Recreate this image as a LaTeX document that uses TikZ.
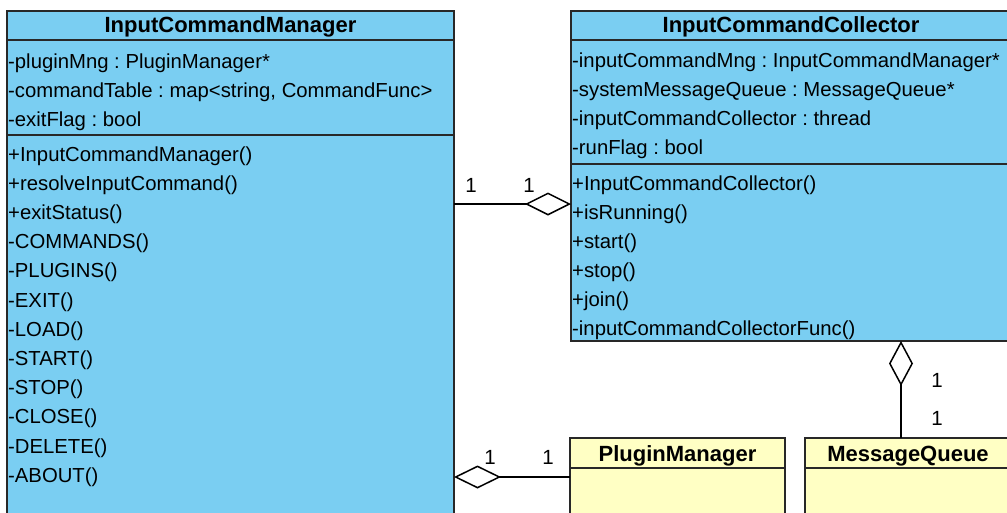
\documentclass[tikz,border=0pt]{standalone}
\usepackage{fontspec}
\setmainfont{Liberation Sans}
\usetikzlibrary{arrows.meta}
\definecolor{umlblue}{RGB}{122,206,242}
\definecolor{umlyellow}{RGB}{255,255,196}
\definecolor{umlborder}{RGB}{40,40,40}
\begin{document}
\frenchspacing
\begin{tikzpicture}[x=1pt,y=-1pt,
  comp/.style={draw=umlborder, line width=2pt, anchor=north west, inner sep=0pt, outer sep=0pt},
  bluebox/.style={comp, fill=umlblue},
  yellowbox/.style={comp, fill=umlyellow},
  member/.style={anchor=base west, inner sep=0pt, font=\fontsize{20.3}{24}\selectfont},
  headtext/.style={anchor=base, inner sep=0pt, font=\fontsize{22}{26}\selectfont\bfseries},
  mult/.style={anchor=base, inner sep=0pt, font=\fontsize{20.5}{24}\selectfont},
  agg/.style={draw=black, line width=1.5pt}
]
\useasboundingbox (0,0) rectangle (1007,512);
\clip (0,0) rectangle (1007,512);
\fill[white] (0,0) rectangle (1007,512);

% InputCommandManager
\node[bluebox, minimum width=447, minimum height=29] (icmhead) at (7,11) {};
\node[bluebox, minimum width=447, minimum height=95] (icmattr) at (7,40) {};
\node[bluebox, minimum width=447, minimum height=400] (icmops) at (7,135) {};
\node[headtext] (icmtitle) at (230.5,32) {InputCommandManager};
\foreach \t [count=\i] in {{-pluginMng : PluginManager*},{-commandTable : map<string, CommandFunc>},{-exitFlag : bool}}
  \node[member] (icma\i) at (8,{68+29*(\i-1)}) {\t};
\foreach \t [count=\i] in {{+InputCommandManager()},{+resolveInputCommand()},{+exitStatus()},{-COMMANDS()},{-PLUGINS()},{-EXIT()},{-LOAD()},{-START()},{-STOP()},{-CLOSE()},{-DELETE()},{-ABOUT()}}
  \node[member] (icmo\i) at (8,{161+29.2*(\i-1)}) {\t};

% InputCommandCollector
\node[bluebox, minimum width=440, minimum height=29] (icchead) at (571,11) {};
\node[bluebox, minimum width=440, minimum height=124] (iccattr) at (571,40) {};
\node[bluebox, minimum width=440, minimum height=177] (iccops) at (571,164) {};
\node[headtext] (icctitle) at (791,32) {InputCommandCollector};
\foreach \t [count=\i] in {{-inputCommandMng : InputCommandManager*},{-systemMessageQueue : MessageQueue*},{-inputCommandCollector : thread},{-runFlag : bool}}
  \node[member] (icca\i) at (572,{67+29.2*(\i-1)}) {\t};
\foreach \t [count=\i] in {{+InputCommandCollector()},{+isRunning()},{+start()},{+stop()},{+join()},{-inputCommandCollectorFunc()}}
  \node[member] (icco\i) at (572,{190+29*(\i-1)}) {\t};

% PluginManager
\node[yellowbox, minimum width=215, minimum height=30] (pmhead) at (570,438) {};
\node[yellowbox, minimum width=215, minimum height=70] (pmbody) at (570,468) {};
\node[headtext] (pmtitle) at (677.5,461) {PluginManager};

% MessageQueue
\node[yellowbox, minimum width=206, minimum height=30] (mqhead) at (805,438) {};
\node[yellowbox, minimum width=206, minimum height=70] (mqbody) at (805,468) {};
\node[headtext] (mqtitle) at (908,461) {MessageQueue};

% connectors
\coordinate (ya) at (0,204);
\coordinate (xb) at (901,0);
\coordinate (yc) at (0,477);
\draw[agg, -{Diamond[fill=white, length=46pt, width=23pt]}] (icmops.east |- ya) -- (iccops.west |- ya);
\draw[agg, -{Diamond[fill=white, length=45pt, width=24pt]}] (mqhead.north -| xb) -- (iccops.south -| xb);
\draw[agg, -{Diamond[fill=white, length=47pt, width=23pt]}] (pmbody.west |- yc) -- (icmops.east |- yc);

% multiplicities
\node[mult] (m1) at (471,192) {1};
\node[mult] (m2) at (529,192) {1};
\node[mult] (m3) at (937,387) {1};
\node[mult] (m4) at (937,425) {1};
\node[mult] (m5) at (490,464) {1};
\node[mult] (m6) at (548,464) {1};
\end{tikzpicture}
\end{document}
